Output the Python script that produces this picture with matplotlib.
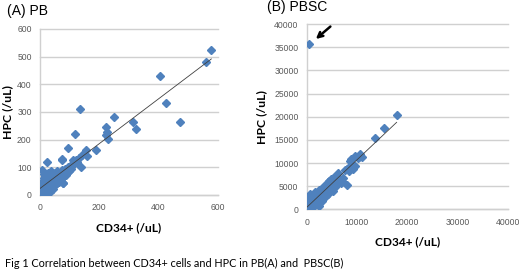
#!/usr/bin/env python3
'''correlation between CD34+ cells and HPC in PB and PBSC'''
import matplotlib
matplotlib.use('Agg')
import matplotlib.pyplot as plt
import numpy as np

# panel A: peripheral blood (CD34+ /uL, HPC /uL)
pb_cd34 = [0, 2, 3, 5, 4, 6, 8, 8, 10, 10, 12, 12, 14, 15, 16, 18, 18, 20, 20, 22,
           24, 25, 26, 28, 28, 30, 30, 32, 33, 35, 35, 36, 38, 40, 40, 42, 44, 45,
           46, 48, 50, 50, 52, 55, 56, 58, 60, 62, 65, 66, 68, 70, 72, 75, 78, 80,
           82, 85, 88, 90, 95, 98, 100, 105, 6, 13, 25, 73, 75, 78, 95, 112, 123,
           119, 134, 139, 143, 155, 160, 130, 125, 110, 188, 222, 226, 224, 229,
           250, 314, 323, 406, 424, 471, 559, 578, 3, 5, 9, 15, 20, 27, 34, 42, 48]
pb_hpc = [0, 5, 12, 2, 20, 30, 10, 45, 25, 50, 15, 38, 60, 30, 8, 42, 70, 20, 55, 35,
          48, 65, 28, 15, 80, 42, 58, 25, 70, 50, 35, 85, 60, 30, 45, 72, 55, 20,
          40, 62, 50, 78, 35, 60, 45, 88, 55, 70, 48, 80, 62, 75, 58, 90, 45, 82,
          68, 95, 72, 80, 100, 88, 105, 95, 90, 75, 121, 130, 127, 42, 170, 127, 127,
          220, 311, 101, 144, 163, 142, 135, 120, 110, 163, 245, 226, 217, 202,
          281, 265, 237, 431, 332, 265, 482, 524, 2, 35, 18, 5, 40, 22, 12, 28, 65]

# panel B: PBSC product (CD34+ /uL, HPC /uL)
pbsc_cd34 = [17900, 15400, 13600, 10600, 10400, 9700, 8600, 8800, 8500, 9300, 9700,
             8100, 7600, 6600, 8100, 6150, 6400, 5800, 5500, 5000, 4800, 4500, 4200,
             4000, 3800, 3600, 3400, 3200, 3000, 2800, 2600, 2500, 2300, 2200, 2000,
             1900, 1800, 1600, 1500, 1400, 1200, 1100, 1000, 900, 800, 700, 600, 500,
             400, 300, 200, 150, 100, 50, 0, 300, 700, 2500, 3000, 3500, 4200, 5200,
             5600, 6800, 7200, 7000, 4600, 3900, 2900, 2100, 1300, 900, 450, 1700,
             2400, 3700, 4400, 4900, 5400, 6000, 8500, 9000, 10200, 11000]
pbsc_hpc = [20400, 17600, 15500, 12000, 11300, 11600, 10500, 10900, 9200, 8700, 9300,
            8700, 8400, 6400, 5200, 7900, 5800, 7000, 6600, 6000, 5600, 5200, 5800,
            4600, 3700, 4200, 5000, 3000, 3600, 4200, 2500, 3200, 1800, 2800, 3500,
            1500, 2400, 3000, 1200, 2000, 2600, 900, 1600, 3000, 500, 1300, 2200, 800,
            1800, 300, 1000, 2700, 500, 100, 200, 2000, 3300, 800, 1800, 2600, 3400,
            4000, 4900, 5600, 6800, 6200, 4000, 2800, 2200, 1200, 500, 2300, 1300,
            3800, 4200, 4900, 6200, 6500, 7000, 6700, 8200, 9500, 11000, 11300]
# excluded sample (marked with an arrow)
out_cd34, out_hpc = 500, 35800

blue = '#4f81bd'
grid = '#d0d0d0'
tick_color = '#595959'
label_font = ['Lato', 'DejaVu Sans']

plt.rcParams['font.family'] = ['Liberation Sans', 'DejaVu Sans']

fig = plt.figure(figsize=(5.2, 2.8), dpi=100)
axA = fig.add_axes([0.0769, 0.3036, 0.342, 0.593])
axB = fig.add_axes([0.590, 0.2525, 0.386, 0.661])


def style(ax, xmax, ymax, xstep, ystep):
    ax.set_xlim(0, xmax)
    ax.set_ylim(0, ymax)
    ax.set_xticks(np.arange(0, xmax + 1, xstep))
    ax.set_yticks(np.arange(0, ymax + 1, ystep))
    ax.grid(True, axis='y', color=grid, lw=1.0, zorder=0, clip_on=False)
    for s in ('top', 'right'):
        ax.spines[s].set_visible(False)
    for s in ('left', 'bottom'):
        ax.spines[s].set_color(grid)
        ax.spines[s].set_linewidth(1.0)
    ax.tick_params(length=0, labelsize=6.2, labelcolor=tick_color, pad=6)
    ax.set_axisbelow(True)


def trend(ax, x, y):
    x = np.asarray(x, float)
    y = np.asarray(y, float)
    m, b = np.polyfit(x, y, 1)
    xs = np.array([x.min(), x.max()])
    ax.plot(xs, m * xs + b, color='#404040', lw=0.6, zorder=4)


# panel A
style(axA, 600, 600, 200, 100)
axA.plot(pb_cd34, pb_hpc, 'D', color=blue, ms=3.7, mec=blue, zorder=3)
trend(axA, pb_cd34, pb_hpc)
axA.set_xlabel('CD34+ (/uL)', family=label_font, weight='bold',
               fontsize=8.6, labelpad=7)
axA.set_ylabel('HPC (/uL)', family=label_font, weight='bold',
               fontsize=8.8, labelpad=3)

# panel B
style(axB, 40000, 40000, 10000, 5000)
axB.plot(pbsc_cd34, pbsc_hpc, 'D', color=blue, ms=3.7, mec=blue, zorder=3)
axB.plot([out_cd34], [out_hpc], 'D', color=blue, ms=3.7, mec=blue, zorder=3)
trend(axB, pbsc_cd34, pbsc_hpc)
axB.annotate('', xy=(1800, 36800), xytext=(4700, 39500),
             arrowprops=dict(arrowstyle='->', color='black', lw=1.8,
                             mutation_scale=9, shrinkA=0, shrinkB=0),
             annotation_clip=False, zorder=6)
axB.set_xlabel('CD34+ (/uL)', family=label_font, weight='bold',
               fontsize=8.6, labelpad=7)
axB.set_ylabel('HPC (/uL)', family=label_font, weight='bold',
               fontsize=8.8, labelpad=5)

# panel titles
fig.text(7 / 520, 1 - 11.5 / 280, '(A) PB', fontsize=10, va='center')
fig.text(267 / 520, 1 - 6.5 / 280, '(B) PBSC', fontsize=10, va='center')

fig.text(0.01, 0.06, 'Fig 1 Correlation between CD34+ cells and HPC in PB(A) and  PBSC(B)',
         family=label_font, fontsize=7.8, va='center')

fig.savefig('out.png', dpi=100)
